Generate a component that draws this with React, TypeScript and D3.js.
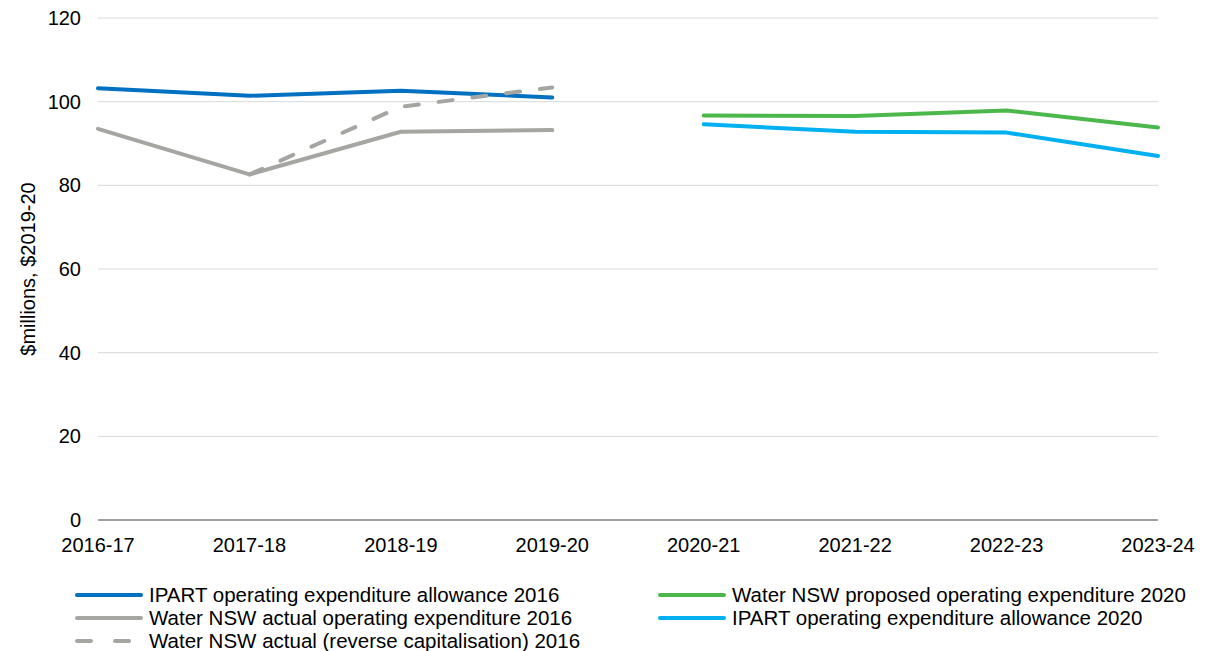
import React from "react";
import * as d3 from "d3";

const categories = ["2016-17", "2017-18", "2018-19", "2019-20", "2020-21", "2021-22", "2022-23", "2023-24"];
const yTicks = [0, 20, 40, 60, 80, 100, 120];

const ipart2016 = [103.2, 101.4, 102.6, 101.0, null, null, null, null];
const actual2016 = [93.5, 82.6, 92.8, 93.2, null, null, null, null];
const reverseCap2016 = [null, 82.6, 98.8, 103.4, null, null, null, null];
const proposed2020 = [null, null, null, null, 96.7, 96.6, 97.9, 93.8];
const ipart2020 = [null, null, null, null, 94.6, 92.8, 92.6, 87.0];

const seriesList = [
  { name: "IPART operating expenditure allowance 2016", values: ipart2016, color: "#0070C0", dash: null },
  { name: "Water NSW actual operating expenditure 2016", values: actual2016, color: "#A5A5A1", dash: null },
  { name: "Water NSW actual (reverse capitalisation) 2016", values: reverseCap2016, color: "#A5A5A1", dash: "14,20" },
  { name: "Water NSW proposed operating expenditure 2020", values: proposed2020, color: "#4CB84C", dash: null },
  { name: "IPART operating expenditure allowance 2020", values: ipart2020, color: "#00B0F0", dash: null },
];

const legendLayout = [
  { idx: 0, col: 0, row: 0 },
  { idx: 3, col: 1, row: 0 },
  { idx: 1, col: 0, row: 1 },
  { idx: 4, col: 1, row: 1 },
  { idx: 2, col: 0, row: 2 },
];

export default function App() {
  const W = 1216, H = 651;
  const left = 98, right = 1158, top = 18, bottom = 520;
  const x = d3.scalePoint<string>().domain(categories).range([left, right]).padding(0);
  const y = d3.scaleLinear().domain([0, 120]).range([bottom, top]);
  const font = "Liberation Sans, Arial, sans-serif";

  const line = d3.line<number | null>()
    .defined((d) => d !== null)
    .x((_, i) => x(categories[i]) as number)
    .y((d) => y(d as number));

  return (
    <svg width={W} height={H} style={{ position: "absolute", left: 0, top: 0 }} fontFamily={font}>
      <rect width={W} height={H} fill="#fff" />
      {yTicks.map((t) => (
        <g key={t}>
          {t !== 0 && <line x1={left} x2={right} y1={y(t)} y2={y(t)} stroke="#D9D9D9" strokeWidth={1} />}
          <text x={81} y={y(t)} dy="0.35em" textAnchor="end" fontSize={20} fill="#000">{t}</text>
        </g>
      ))}
      <line x1={left} x2={right} y1={y(0)} y2={y(0)} stroke="#404040" strokeWidth={1} />
      {categories.map((c) => (
        <text key={c} x={x(c)} y={551.5} textAnchor="middle" fontSize={20} fill="#000">{c}</text>
      ))}
      <text transform={`translate(35,${y(60)}) rotate(-90)`} textAnchor="middle" fontSize={20} fill="#000">$millions, $2019-20</text>
      {seriesList.map((s, i) => (
        <path key={i} d={line(s.values) || ""} fill="none" stroke={s.color} strokeWidth={4}
          strokeLinecap="round" strokeLinejoin="round" strokeDasharray={s.dash || undefined} />
      ))}
      {legendLayout.map(({ idx, col, row }) => {
        const s = seriesList[idx];
        const lx = col === 0 ? 77 : 660;
        const ly = 595 + row * 23;
        return (
          <g key={idx}>
            <line x1={lx} x2={lx + 64} y1={ly} y2={ly} stroke={s.color} strokeWidth={4}
              strokeLinecap="round" strokeDasharray={s.dash ? "14,24" : undefined} />
            <text x={lx + 72} y={ly} dy="0.35em" fontSize={20.5} fill="#000">{s.name}</text>
          </g>
        );
      })}
    </svg>
  );
}
